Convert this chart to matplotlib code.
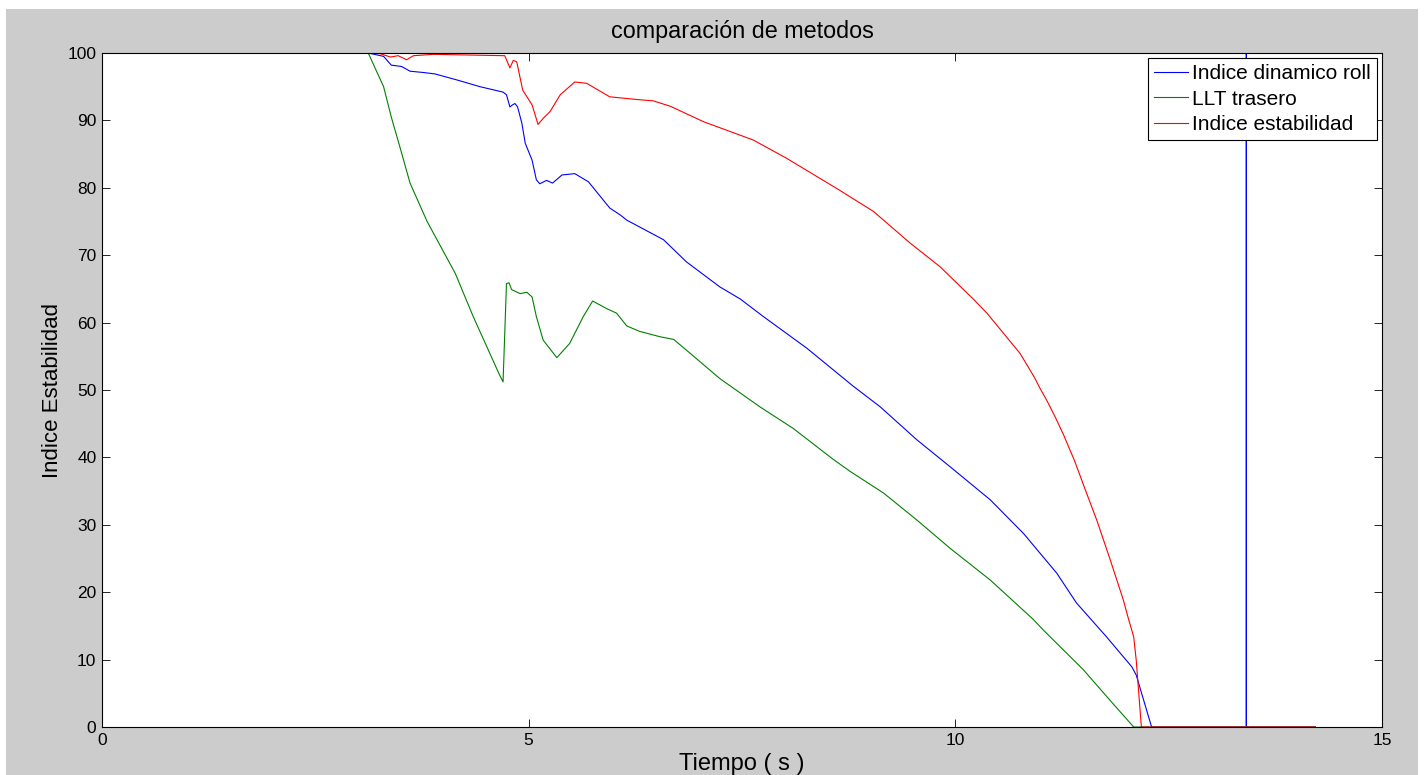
import matplotlib.pyplot as plt
from matplotlib.patches import Rectangle

plt.rcParams['font.family'] = ['Liberation Sans', 'DejaVu Sans']

# time samples (s) and the three stability indices
t_roll = [0, 3.12, 3.30, 3.39, 3.51, 3.61, 3.77, 3.90, 4.16, 4.43, 4.70, 4.74, 4.78,
          4.81, 4.84, 4.87, 4.92, 4.96, 5.04, 5.09, 5.13, 5.21, 5.28, 5.39, 5.54,
          5.70, 5.95, 6.07, 6.15, 6.58, 6.85, 7.24, 7.48, 7.75, 8.26, 8.80, 9.12,
          9.55, 9.94, 10.41, 10.80, 11.19, 11.42, 11.77, 12.07, 12.12, 12.30,
          13.41, 13.41, 13.41, 14.22]
roll = [100, 100, 99.5, 98.2, 98.0, 97.3, 97.1, 96.9, 96.0, 95.0, 94.2, 93.8, 92.0,
        92.3, 92.5, 92.0, 89.6, 86.6, 84.1, 81.2, 80.6, 81.1, 80.7, 81.9, 82.1,
        80.9, 77.0, 76.0, 75.2, 72.3, 69.0, 65.3, 63.5, 60.9, 56.2, 50.6, 47.5,
        42.6, 38.6, 33.7, 28.7, 22.8, 18.4, 13.4, 8.9, 7.7, 0,
        0, 100, 0, 0]

t_llt = [0, 3.12, 3.30, 3.39, 3.49, 3.61, 3.81, 4.14, 4.35, 4.66, 4.70, 4.74, 4.77,
         4.80, 4.90, 4.98, 5.04, 5.09, 5.17, 5.33, 5.48, 5.64, 5.75, 5.91, 6.03,
         6.15, 6.30, 6.54, 6.70, 6.85, 7.24, 7.71, 8.10, 8.57, 8.77, 9.16, 9.55,
         9.94, 10.41, 10.91, 11.03, 11.50, 11.81, 12.09, 14.22]
llt = [100, 100, 95.0, 90.5, 86.1, 80.7, 75.0, 67.3, 60.9, 52.2, 51.2, 65.8, 65.9,
       64.9, 64.3, 64.5, 63.8, 60.9, 57.4, 54.8, 56.9, 60.9, 63.2, 62.1, 61.4,
       59.5, 58.7, 57.9, 57.5, 55.9, 51.7, 47.5, 44.3, 39.7, 37.9, 34.7, 30.7,
       26.5, 21.8, 16.0, 14.4, 8.5, 4.0, 0, 0]

t_est = [0, 3.12, 3.26, 3.38, 3.47, 3.57, 3.65, 3.88, 4.72, 4.78, 4.82, 4.86, 4.93,
         5.04, 5.11, 5.17, 5.25, 5.37, 5.54, 5.68, 5.95, 6.27, 6.46, 6.66, 7.05,
         7.63, 8.02, 8.61, 9.04, 9.47, 9.82, 10.21, 10.37, 10.52, 10.76, 10.93,
         10.99, 11.07, 11.17, 11.27, 11.40, 11.52, 11.66, 11.81, 11.97, 12.03,
         12.09, 12.12, 12.18, 14.22]
est = [100, 100, 99.9, 99.4, 99.6, 99.0, 99.6, 99.8, 99.6, 97.8, 98.9, 98.7, 94.5,
       92.3, 89.4, 90.3, 91.3, 93.8, 95.7, 95.5, 93.5, 93.1, 92.9, 92.1, 89.8,
       87.1, 84.4, 79.9, 76.5, 71.8, 68.3, 63.5, 61.4, 59.1, 55.4, 51.8,
       50.3, 48.5, 46.0, 43.3, 39.4, 35.3, 30.6, 25.0, 18.8, 16.0,
       13.4, 9.9, 0, 0]

fig = plt.figure(figsize=(14.26, 7.75), dpi=100, facecolor='white')
# grey window background behind the axes
fig.patches.append(Rectangle((6 / 1426, 0), 1412 / 1426, 1 - 9 / 775,
                             transform=fig.transFigure, facecolor='#cccccc',
                             edgecolor='none', zorder=-10))
ax = fig.add_axes([102 / 1426, 1 - 727 / 775, 1280 / 1426, 674 / 775])

ax.plot(t_roll, roll, color='#0000ff', lw=0.8, label='Indice dinamico roll')
ax.plot(t_llt, llt, color='#008000', lw=0.8, label='LLT trasero')
ax.plot(t_est, est, color='#ff0000', lw=0.8, label='Indice estabilidad')

ax.set_xlim(0, 15)
ax.set_ylim(0, 100)
ax.set_xticks([0, 5, 10, 15])
ax.set_yticks(range(0, 101, 10))
ax.tick_params(direction='in', top=True, right=True, length=6, width=0.6,
               labelsize=12.5, pad=4)
for s in ax.spines.values():
    s.set_linewidth(0.8)

ax.set_title('comparación de metodos', fontsize=16.8, pad=11)
ax.set_xlabel('Tiempo ( s )', fontsize=17, labelpad=4)
ax.set_ylabel('Indice Estabilidad', fontsize=16, labelpad=3)

leg = ax.legend(loc='upper right', fontsize=15, fancybox=False, framealpha=1,
                edgecolor='black', borderaxespad=0.25, handlelength=1.6,
                handletextpad=0.2, borderpad=0.3, labelspacing=0.3)
leg.get_frame().set_linewidth(0.8)

fig.savefig('out.png', dpi=100, facecolor=fig.get_facecolor())
